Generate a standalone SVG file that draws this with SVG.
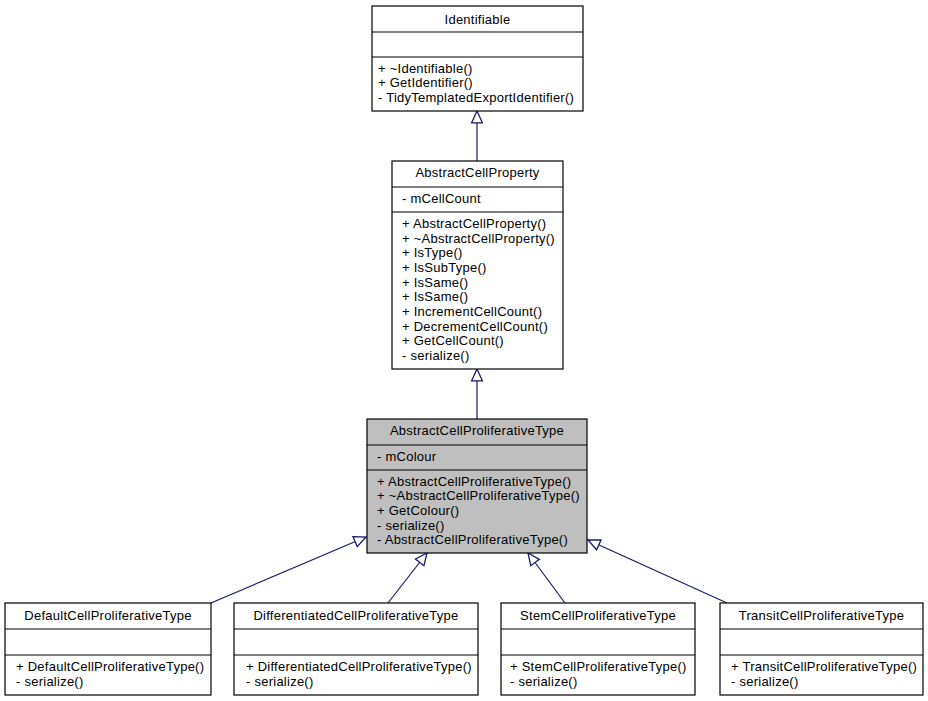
<svg xmlns="http://www.w3.org/2000/svg" width="928" height="701" viewBox="0 0 928 701">
<style>
.box{fill:#ffffff;stroke:#000000;stroke-width:1.2}
.gray{fill:#bfbfbf;stroke:#000000;stroke-width:1.2}
.div{stroke:#000000;stroke-width:1.2}
text{font-family:"Liberation Sans",Arial,sans-serif;font-size:13px;letter-spacing:0.25px;fill:#000000}
.c{text-anchor:middle}
.edge{stroke:#191970;stroke-width:1.2;fill:none}
</style>
<defs>
<marker id="tri" markerUnits="userSpaceOnUse" markerWidth="14" markerHeight="14" viewBox="-1 -6 13 12" refX="11" refY="0" orient="auto">
<path d="M0,-5 L11,0 L0,5 Z" fill="#ffffff" stroke="#191970" stroke-width="1.2"/>
</marker>
</defs>
<rect width="928" height="701" fill="#ffffff"/>
<g id="connectors">
<line class="edge" x1="477" y1="161" x2="477" y2="111" marker-end="url(#tri)"/>
<line class="edge" x1="477" y1="419" x2="477" y2="369" marker-end="url(#tri)"/>
<line class="edge" x1="211" y1="603" x2="366" y2="537" marker-end="url(#tri)"/>
<line class="edge" x1="388" y1="603" x2="427" y2="553" marker-end="url(#tri)"/>
<line class="edge" x1="565" y1="603" x2="528" y2="553" marker-end="url(#tri)"/>
<line class="edge" x1="727" y1="603" x2="588" y2="540" marker-end="url(#tri)"/>
</g>
<g id="Identifiable">
<rect class="box" x="372" y="6" width="211" height="105"/>
<line class="div" x1="372" y1="32" x2="583" y2="32"/>
<line class="div" x1="372" y1="57" x2="583" y2="57"/>
<text class="c" x="477.5" y="24">Identifiable</text>
<text x="378" y="73">+ ~Identifiable()</text>
<text x="378" y="87">+ GetIdentifier()</text>
<text x="378" y="102">- TidyTemplatedExportIdentifier()</text>
</g>
<g id="AbstractCellProperty">
<rect class="box" x="392" y="161" width="171" height="208"/>
<line class="div" x1="392" y1="187" x2="563" y2="187"/>
<line class="div" x1="392" y1="212" x2="563" y2="212"/>
<text class="c" x="477.5" y="177">AbstractCellProperty</text>
<text x="402" y="203">- mCellCount</text>
<text x="402" y="228">+ AbstractCellProperty()</text>
<text x="402" y="243">+ ~AbstractCellProperty()</text>
<text x="402" y="257">+ IsType()</text>
<text x="402" y="272">+ IsSubType()</text>
<text x="402" y="287">+ IsSame()</text>
<text x="402" y="301">+ IsSame()</text>
<text x="402" y="316">+ IncrementCellCount()</text>
<text x="402" y="331">+ DecrementCellCount()</text>
<text x="402" y="345">+ GetCellCount()</text>
<text x="402" y="360">- serialize()</text>
</g>
<g id="AbstractCellProliferativeType">
<rect class="gray" x="367" y="419" width="220" height="134"/>
<line class="div" x1="367" y1="445" x2="587" y2="445"/>
<line class="div" x1="367" y1="470" x2="587" y2="470"/>
<text class="c" x="477" y="435">AbstractCellProliferativeType</text>
<text x="377" y="461">- mColour</text>
<text x="377" y="486">+ AbstractCellProliferativeType()</text>
<text x="377" y="500">+ ~AbstractCellProliferativeType()</text>
<text x="377" y="515">+ GetColour()</text>
<text x="377" y="530">- serialize()</text>
<text x="377" y="544">- AbstractCellProliferativeType()</text>
</g>
<g id="DefaultCellProliferativeType">
<rect class="box" x="5" y="603" width="206" height="92"/>
<line class="div" x1="5" y1="629" x2="211" y2="629"/>
<line class="div" x1="5" y1="655" x2="211" y2="655"/>
<text class="c" x="108" y="620">DefaultCellProliferativeType</text>
<text x="16" y="671">+ DefaultCellProliferativeType()</text>
<text x="16" y="686">- serialize()</text>
</g>
<g id="DifferentiatedCellProliferativeType">
<rect class="box" x="234" y="603" width="244" height="92"/>
<line class="div" x1="234" y1="629" x2="478" y2="629"/>
<line class="div" x1="234" y1="655" x2="478" y2="655"/>
<text class="c" x="356" y="620">DifferentiatedCellProliferativeType</text>
<text x="246" y="671">+ DifferentiatedCellProliferativeType()</text>
<text x="246" y="686">- serialize()</text>
</g>
<g id="StemCellProliferativeType">
<rect class="box" x="501" y="603" width="194" height="92"/>
<line class="div" x1="501" y1="629" x2="695" y2="629"/>
<line class="div" x1="501" y1="655" x2="695" y2="655"/>
<text class="c" x="598" y="620">StemCellProliferativeType</text>
<text x="510" y="671">+ StemCellProliferativeType()</text>
<text x="510" y="686">- serialize()</text>
</g>
<g id="TransitCellProliferativeType">
<rect class="box" x="720" y="603" width="203" height="92"/>
<line class="div" x1="720" y1="629" x2="923" y2="629"/>
<line class="div" x1="720" y1="655" x2="923" y2="655"/>
<text class="c" x="821.5" y="620">TransitCellProliferativeType</text>
<text x="731" y="671">+ TransitCellProliferativeType()</text>
<text x="731" y="686">- serialize()</text>
</g>
</svg>
